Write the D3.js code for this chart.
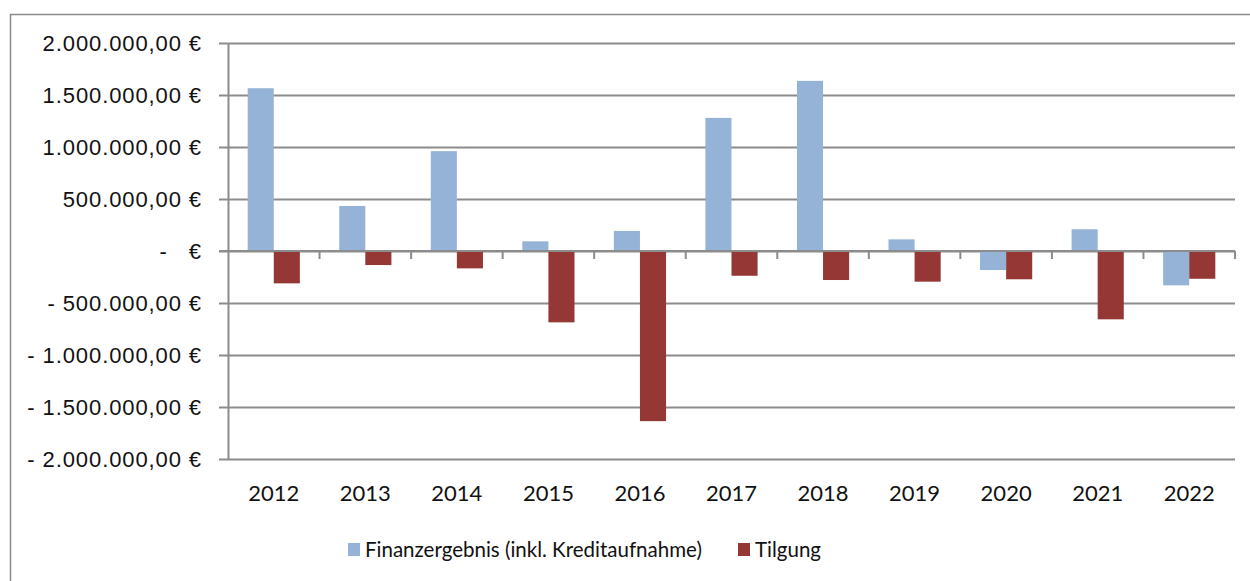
<!DOCTYPE html>
<html>
<head>
<meta charset="utf-8">
<script src="https://cdn.jsdelivr.net/npm/d3@7"></script>
<style>
  body { margin: 0; background: #fff; }
  svg { display: block; font-family: Lato, "Open Sans", sans-serif; }
</style>
</head>
<body>
<svg id="chart" width="1250" height="581"></svg>
<script>
// chart values
const years = ["2012", "2013", "2014", "2015", "2016", "2017", "2018", "2019", "2020", "2021", "2022"];
const seriesNames = ["Finanzergebnis (inkl. Kreditaufnahme)", "Tilgung"];
const finanzergebnis = [1565000, 433000, 960000, 93000, 193000, 1280000, 1636000, 112000, -183000, 209000, -330000];
const tilgung = [-311000, -135000, -167000, -686000, -1636000, -238000, -279000, -295000, -272000, -657000, -267000];
const yTicks = [2000000, 1500000, 1000000, 500000, 0, -500000, -1000000, -1500000, -2000000];

const WIDTH = 1250;
const HEIGHT = 581;
const margin = { top: 43, right: 15, bottom: 122, left: 228 };
const colors = ["#95b3d7", "#953735"];
const gridColor = "#8c8c8c";

const svg = d3.select("#chart");

// outer chart frame (runs off the right and bottom edge)
svg.append("rect")
  .attr("x", 10.5)
  .attr("y", 14.5)
  .attr("width", WIDTH)
  .attr("height", HEIGHT)
  .attr("fill", "none")
  .attr("stroke", "#8a8a8a")
  .attr("stroke-width", 1.5);

// scales
const x0 = d3.scaleBand()
  .domain(years)
  .range([margin.left, WIDTH - margin.right])
  .paddingInner(0.43)
  .paddingOuter(0.215);

const x1 = d3.scaleBand()
  .domain(seriesNames)
  .range([0, x0.bandwidth()]);

const y = d3.scaleLinear()
  .domain([-2000000, 2000000])
  .range([HEIGHT - margin.bottom, margin.top]);

// number format like "1.500.000,00 €"
const de = d3.formatLocale({ decimal: ",", thousands: ".", grouping: [3], currency: ["", " €"] });
const fmt = de.format(",.2f");
function label(v) {
  if (v === 0) return "-   €";
  if (v < 0) return "- " + fmt(-v) + " €";
  return fmt(v) + " €";
}

// y axis with gridlines (ticks run out to the left)
const yAxis = svg.append("g")
  .attr("transform", `translate(${margin.left},0)`)
  .call(d3.axisLeft(y)
    .tickValues(yTicks)
    .tickSize(-(WIDTH - margin.right - margin.left))
    .tickSizeOuter(0)
    .tickPadding(26)
    .tickFormat(label));

yAxis.select(".domain").attr("stroke", gridColor).attr("stroke-width", 2);
yAxis.selectAll(".tick line")
  .attr("x1", -9)
  .attr("stroke", gridColor)
  .attr("stroke-width", 2);
yAxis.selectAll(".tick text")
  .attr("fill", "#111")
  .attr("font-size", 22)
  .attr("letter-spacing", 0.9)
  .style("white-space", "pre");

// bars
const rows = years.map((yr, i) => ({ year: yr, values: [finanzergebnis[i], tilgung[i]] }));

svg.append("g")
  .selectAll("g")
  .data(rows)
  .join("g")
  .attr("transform", (d) => `translate(${x0(d.year)},0)`)
  .selectAll("rect")
  .data((d) => d.values.map((v, k) => ({ name: seriesNames[k], value: v, k })))
  .join("rect")
  .attr("x", (d) => x1(d.name))
  .attr("y", (d) => y(Math.max(0, d.value)))
  .attr("width", x1.bandwidth())
  .attr("height", (d) => Math.abs(y(d.value) - y(0)))
  .attr("fill", (d) => colors[d.k]);

// zero line
svg.append("line")
  .attr("x1", margin.left - 9)
  .attr("x2", WIDTH - margin.right)
  .attr("y1", y(0))
  .attr("y2", y(0))
  .attr("stroke", gridColor)
  .attr("stroke-width", 2);

// tick marks between categories
svg.append("g")
  .selectAll("line")
  .data(years)
  .join("line")
  .attr("x1", (d) => x0(d) + x0.bandwidth() + x0.step() * x0.paddingInner() / 2)
  .attr("x2", (d) => x0(d) + x0.bandwidth() + x0.step() * x0.paddingInner() / 2)
  .attr("y1", y(0))
  .attr("y2", y(0) + 8)
  .attr("stroke", gridColor)
  .attr("stroke-width", 2);

// year labels below the plot
svg.append("g")
  .selectAll("text")
  .data(years)
  .join("text")
  .attr("x", (d) => x0(d) + x0.bandwidth() / 2)
  .attr("y", y(-2000000) + 42)
  .attr("text-anchor", "middle")
  .attr("font-size", 22)
  .attr("fill", "#111")
  .text((d) => d);

// legend
const legendItems = [
  { name: seriesNames[0], color: colors[0], x: 348 },
  { name: seriesNames[1], color: colors[1], x: 738 },
];
const legend = svg.append("g")
  .selectAll("g")
  .data(legendItems)
  .join("g")
  .attr("transform", (d) => `translate(${d.x},543)`);
legend.append("rect")
  .attr("width", 12)
  .attr("height", 13)
  .attr("fill", (d) => d.color);
legend.append("text")
  .attr("x", 17)
  .attr("y", 14)
  .attr("font-size", 20.5)
  .attr("fill", "#111")
  .text((d) => d.name);
</script>
</body>
</html>
